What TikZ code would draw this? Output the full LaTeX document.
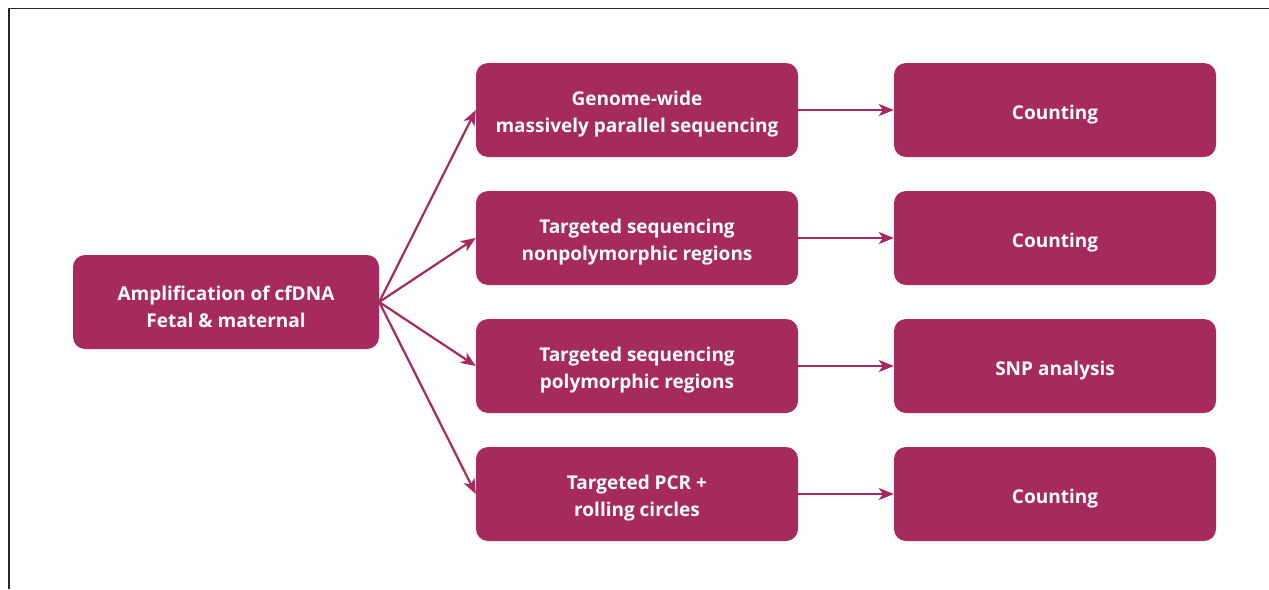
\documentclass[tikz,border=0pt]{standalone}
\usepackage{fontspec}
\setsansfont{Open Sans}
\usetikzlibrary{arrows.meta}
\definecolor{boxc}{RGB}{166,42,94}
\begin{document}
\begin{tikzpicture}[x=1pt,y=-1pt,
  box/.style={fill=boxc,rounded corners=12pt,minimum width=306pt,minimum height=94pt,inner sep=0pt},
  mbox/.style={box,minimum width=322pt},
  txt/.style={text=white,font=\sffamily\bfseries\fontsize{19}{27}\selectfont,align=center,inner sep=0pt,yshift=-4.5pt},
  conn/.style={draw=boxc,line width=2.2pt,-{Stealth[length=15pt,width=12pt,inset=4pt]}}]
\useasboundingbox (0,0) rectangle (1269,589);
\draw[line width=1.5pt,black!85] (9,589) -- (9,8.5) -- (1269,8.5);
\node[box] (amp) at (226,302) {};
\node[mbox] (m1) at (637,110) {};
\node[mbox] (m2) at (637,238) {};
\node[mbox] (m3) at (637,366) {};
\node[mbox] (m4) at (637,494) {};
\node[mbox] (r1) at (1055,110) {};
\node[mbox] (r2) at (1055,238) {};
\node[mbox] (r3) at (1055,366) {};
\node[mbox] (r4) at (1055,494) {};
\node[txt] (ampt) at (amp.center) {Amplification of cfDNA\\Fetal \& maternal};
\node[txt] (m1t) at (m1.center) {Genome-wide\\massively parallel sequencing};
\node[txt] (m2t) at (m2.center) {Targeted sequencing\\nonpolymorphic regions};
\node[txt] (m3t) at (m3.center) {Targeted sequencing\\polymorphic regions};
\node[txt] (m4t) at (m4.center) {Targeted PCR +\\rolling circles};
\node[txt] (r1t) at (r1.center) {Counting};
\node[txt] (r2t) at (r2.center) {Counting};
\node[txt] (r3t) at (r3.center) {SNP analysis};
\node[txt] (r4t) at (r4.center) {Counting};
\foreach \i in {1,2,3,4}{
  \draw[conn] (amp.east) -- (m\i.west);
  \draw[conn] (m\i.east) -- (r\i.west);
}
\end{tikzpicture}
\end{document}
